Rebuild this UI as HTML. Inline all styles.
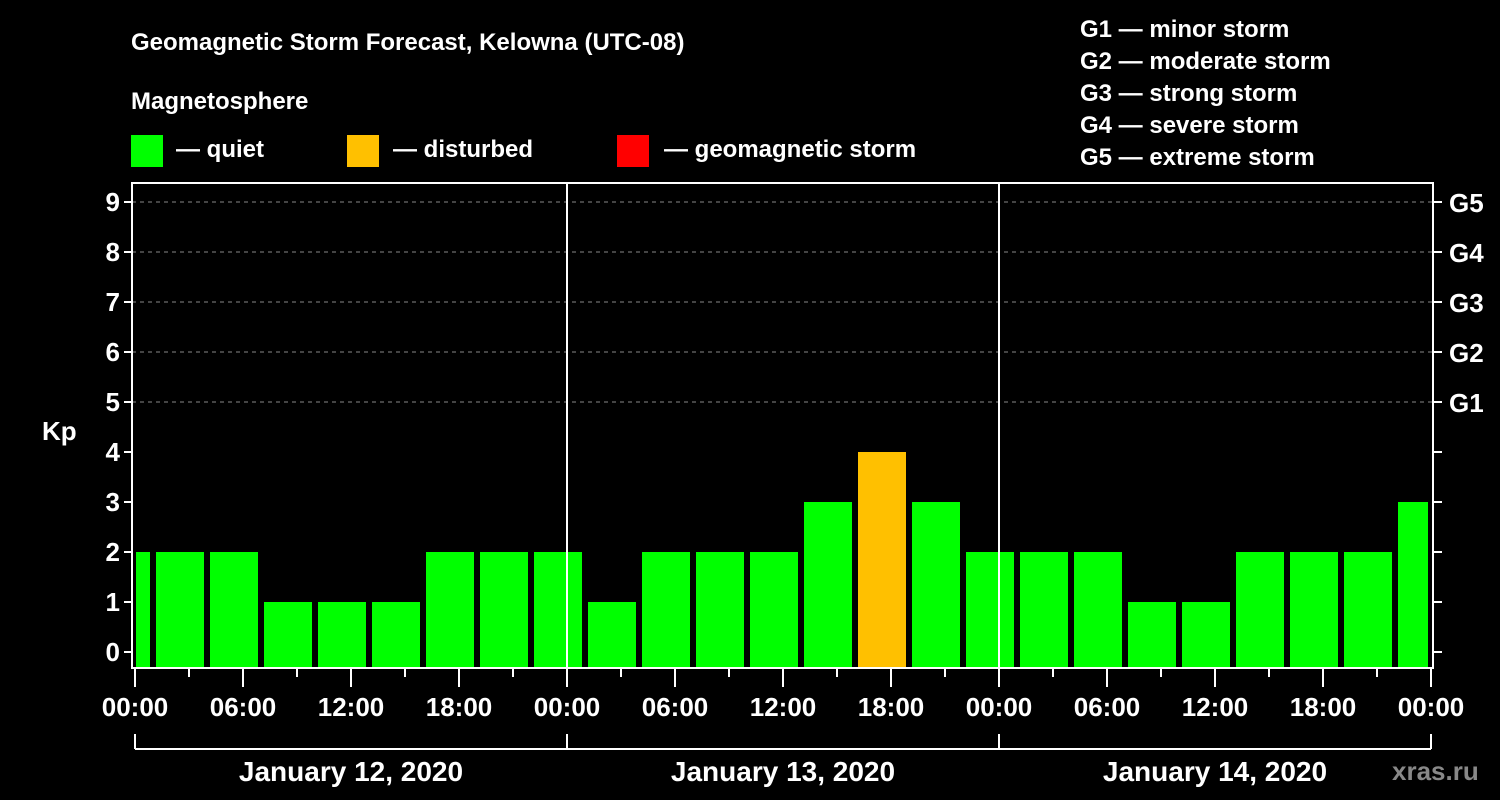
<!DOCTYPE html>
<html><head><meta charset="utf-8"><style>
html,body{margin:0;padding:0;background:#000;}
svg{display:block;font-family:"Liberation Sans",Arial,sans-serif;font-weight:bold;}
</style></head><body>
<svg id="chart" width="1500" height="800" viewBox="0 0 1500 800">
<rect width="1500" height="800" fill="#000"/>
<text x="131" y="50" fill="#fff" font-size="24">Geomagnetic Storm Forecast, Kelowna (UTC-08)</text>
<text x="131" y="109" fill="#fff" font-size="24">Magnetosphere</text>
<g>
<rect x="131" y="135" width="32" height="32" fill="#00ff00"/>
<text x="176" y="157" fill="#fff" font-size="24">— quiet</text>
<rect x="347" y="135" width="32" height="32" fill="#ffc000"/>
<text x="393" y="157" fill="#fff" font-size="24">— disturbed</text>
<rect x="617" y="135" width="32" height="32" fill="#ff0000"/>
<text x="664" y="157" fill="#fff" font-size="24">— geomagnetic storm</text>
</g>
<g fill="#fff" font-size="24">
<text x="1080" y="37">G1 — minor storm</text>
<text x="1080" y="69">G2 — moderate storm</text>
<text x="1080" y="101">G3 — strong storm</text>
<text x="1080" y="133">G4 — severe storm</text>
<text x="1080" y="165">G5 — extreme storm</text>
</g>
<text x="42" y="440" fill="#fff" font-size="26">Kp</text>
<text x="1392" y="780" fill="#888" font-size="26">xras.ru</text>
<g id="plot"></g>
</svg>
<script>
const kpValues = [2, 2,2,1,1,1,2,2,2, 1,2,2,2,3,4,3,2,2, 2,1,1,2,2,2,3,2];
const barStartHours = [-2, 1,4,7,10,13,16,19,22, 25,28,31,34,37,40,43,46, 49,52,55,58,61,64,67,70];
const yTicks = [0,1,2,3,4,5,6,7,8,9];
const gLabels = ["","","","","","G1","G2","G3","G4","G5"];
const xTickLabels = ["00:00","06:00","12:00","18:00","00:00","06:00","12:00","18:00","00:00","06:00","12:00","18:00","00:00"];
const dayLabels = ["January 12, 2020","January 13, 2020","January 14, 2020"];

const NS="http://www.w3.org/2000/svg";
const g=document.getElementById('plot');
const X0=135, PXH=18, HMAX=72;
const xs=h=>X0+h*PXH;
const ys=v=>652-50*v;
const L=132, R=1433, T=183, B=668;
function mk(tag,attrs){const e=document.createElementNS(NS,tag);for(const k in attrs)e.setAttribute(k,attrs[k]);g.appendChild(e);return e;}

// grid
yTicks.forEach(v=>{ if(v>=5){const e=mk('line',{x1:L,x2:R,y1:ys(v),y2:ys(v),stroke:'#888','stroke-dasharray':'4,4','stroke-width':1});

}});
// bars
kpValues.forEach((v,i)=>{
  let s=barStartHours[i], e=s+3;
  let x1=Math.max(xs(s)+3,xs(0)+1), x2=Math.min(xs(e)-3,xs(HMAX)-3);
  const r=mk('rect',{x:x1,y:ys(v),width:x2-x1,height:B-1-ys(v),fill:v>=5?'#ff0000':(v>=4?'#ffc000':'#00ff00')});
  
  
});
// day separators
[1,2].forEach(d=>{const e=mk('line',{x1:xs(24*d),x2:xs(24*d),y1:T,y2:B,stroke:'#fff','stroke-width':2});

});
// frame
const fr=mk('rect',{x:L,y:T,width:R-L,height:B-T,fill:'none',stroke:'#fff','stroke-width':2});


// y ticks
yTicks.forEach((v,i)=>{
  mk('line',{x1:L-8,x2:L,y1:ys(v),y2:ys(v),stroke:'#fff','stroke-width':2});
  mk('line',{x1:R,x2:R+9,y1:ys(v),y2:ys(v),stroke:'#fff','stroke-width':2});
  const t=mk('text',{x:L-12,y:ys(v)+9,fill:'#fff','font-size':26,'text-anchor':'end'});
  t.textContent=v;
  
  
  if(gLabels[i]){const gt=mk('text',{x:1449,y:ys(v)+10,fill:'#fff','font-size':26});
  gt.textContent=gLabels[i];
  
  }
});
// x ticks
for(let h=0;h<=HMAX;h+=3){
  const major=h%6===0;
  mk('line',{x1:xs(h),x2:xs(h),y1:B,y2:major?B+19:B+9,stroke:'#fff','stroke-width':2});
}
xTickLabels.forEach((lab,i)=>{
  const t=mk('text',{x:xs(i*6),y:716,fill:'#fff','font-size':26,'text-anchor':'middle'});
  t.textContent=lab;
  
  
});
// day bracket
mk('line',{x1:xs(0),x2:xs(HMAX),y1:749,y2:749,stroke:'#fff','stroke-width':2});
for(let d=0;d<=3;d++) mk('line',{x1:xs(24*d),x2:xs(24*d),y1:734,y2:749,stroke:'#fff','stroke-width':2});
dayLabels.forEach((lab,i)=>{
  const t=mk('text',{x:xs(24*i+12),y:781,fill:'#fff','font-size':28,'text-anchor':'middle'});
  t.textContent=lab;
  
  
});
</script>
</body></html>
